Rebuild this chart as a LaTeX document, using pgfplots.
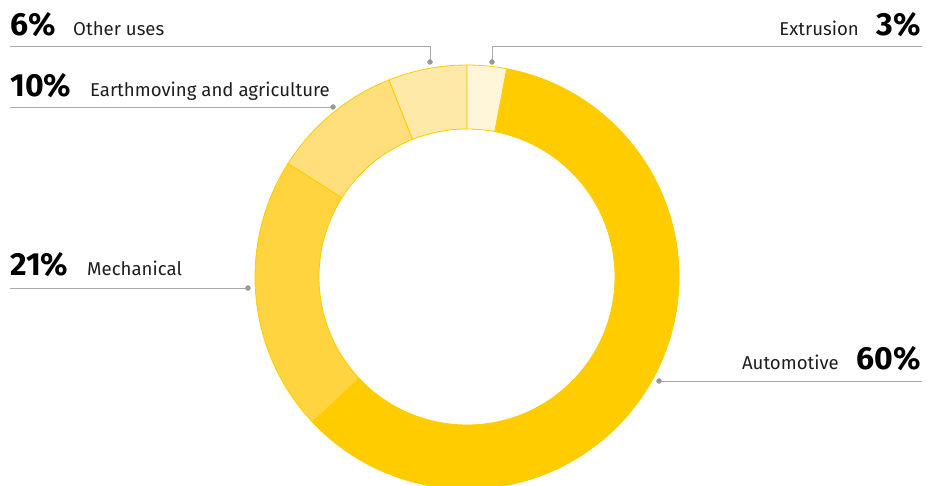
\documentclass[border=0pt]{standalone}
\usepackage{pgfplots}
\pgfplotsset{compat=1.18}
\usepackage{fontspec}
\setmainfont{Fira Sans}
\definecolor{cAuto}{HTML}{FFCC00}
\definecolor{cMech}{HTML}{FFD43F}
\definecolor{cEarth}{HTML}{FFDF7C}
\definecolor{cOther}{HTML}{FFE9A8}
\definecolor{cExt}{HTML}{FFF5D8}
\definecolor{edge}{HTML}{FFCC00}
\definecolor{lead}{HTML}{A8A8A8}
\definecolor{dotc}{HTML}{9A9A9A}
\definecolor{txt}{HTML}{1E1E1E}
% shares in percent (clockwise from the top)
\def\vExt{3}\def\vAuto{60}\def\vMech{21}\def\vEarth{10}\def\vOther{6}
\pgfmathsetmacro\bA{90}
\pgfmathsetmacro\bB{\bA-\vExt*3.6}
\pgfmathsetmacro\bC{\bB-\vAuto*3.6}
\pgfmathsetmacro\bD{\bC-\vMech*3.6}
\pgfmathsetmacro\bE{\bD-\vEarth*3.6}
\pgfmathsetmacro\bF{\bE-\vOther*3.6}
\newcommand\seg[3]{%
  \filldraw[fill=#3, draw=edge, line width=0.8pt, line join=round]
    (axis cs:467,209) ++(#1:212pt) arc[start angle=#1, end angle=#2, radius=212pt]
    -- ++({#2+180}:64pt) arc[start angle=#2, end angle=#1, radius=148pt] -- cycle;}
\newcommand\lab{\fontsize{18.6}{20}\selectfont\color{txt}}
\newcommand\pct{\fontsize{32}{34}\selectfont\bfseries\color{black}}
\begin{document}
\begin{tikzpicture}
\begin{axis}[
  width=927pt, height=486pt, scale only axis,
  xmin=0, xmax=927, ymin=0, ymax=486,
  hide axis,
]
\path (axis cs:0,0) rectangle (axis cs:927,486);
\seg{\bB}{\bC}{cAuto}
\seg{\bC}{\bD}{cMech}
\seg{\bD}{\bE}{cEarth}
\seg{\bE}{\bF}{cOther}
\seg{\bA}{\bB}{cExt}
% leader lines
\addplot[lead, line width=0.8pt, no marks] coordinates {(10,440) (430,440) (430,424)};
\addplot[lead, line width=0.8pt, no marks] coordinates {(10,379) (333,379)};
\addplot[lead, line width=0.8pt, no marks] coordinates {(10,198) (248,198)};
\addplot[lead, line width=0.8pt, no marks] coordinates {(659,105) (922,105)};
\addplot[lead, line width=0.8pt, no marks] coordinates {(922,440) (492,440) (492,424)};
\addplot[only marks, mark=*, mark size=2.5pt, dotc, mark options={draw=dotc, fill=dotc}]
  coordinates {(430,424) (333,379) (248,198) (659,105) (492,424)};
% labels
\node[anchor=base west, inner sep=0] at (axis cs:10,450.5) {\pct 6\%};
\node[anchor=base west, inner sep=0] at (axis cs:73,450.5) {\lab Other uses};
\node[anchor=base west, inner sep=0] at (axis cs:10,389.5) {\pct 10\%};
\node[anchor=base west, inner sep=0] at (axis cs:90,389.5) {\lab Earthmoving and agriculture};
\node[anchor=base west, inner sep=0] at (axis cs:10,210) {\pct 21\%};
\node[anchor=base west, inner sep=0] at (axis cs:87,210) {\lab Mechanical};
\node[anchor=base east, inner sep=0] at (axis cs:839,116) {\lab Automotive};
\node[anchor=base east, inner sep=0] at (axis cs:921,116) {\pct 60\%};
\node[anchor=base east, inner sep=0] at (axis cs:859,450) {\lab Extrusion};
\node[anchor=base east, inner sep=0] at (axis cs:921,450) {\pct 3\%};
\end{axis}
\end{tikzpicture}
\end{document}
